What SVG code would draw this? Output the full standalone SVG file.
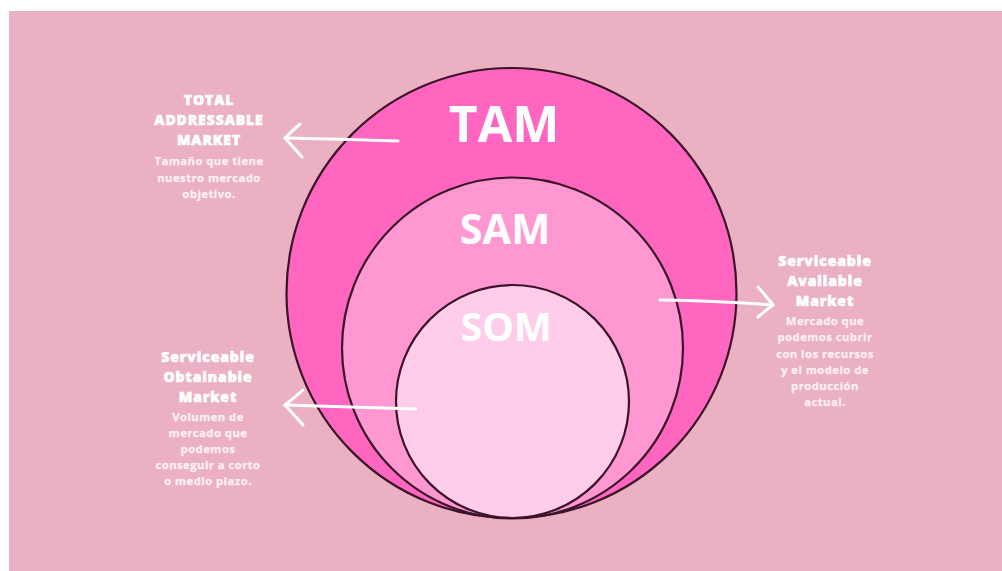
<svg xmlns="http://www.w3.org/2000/svg" width="1002" height="571" viewBox="0 0 1002 571">
<style>
.ring{stroke:#3a1428;stroke-width:2.2}
.big{font-family:"Open Sans","Liberation Sans",sans-serif;font-weight:700;fill:#ffffff;text-anchor:middle}
.hd{font-family:"Open Sans","Liberation Sans",sans-serif;font-weight:800;font-size:14px;fill:#ffffff;stroke:#ffffff;stroke-width:0.6;text-anchor:middle;letter-spacing:0.9px}
.bd{font-family:"Open Sans","Liberation Sans",sans-serif;font-weight:700;font-size:11.3px;fill:#fdf0f5;stroke:#fdf0f5;stroke-width:0.25;text-anchor:middle;letter-spacing:0.45px}
.arr{fill:none;stroke:#ffffff;stroke-width:3;stroke-linecap:round;stroke-linejoin:round}
</style>
<rect x="0" y="0" width="1002" height="571" fill="#ffffff"/>
<rect x="9" y="11" width="993" height="560" fill="#ebb0c2"/>
<g id="tam">
<circle class="ring" cx="511.5" cy="293" r="225" fill="#ff66c0"/>
<text class="big" x="504" y="142" font-size="50">TAM</text>
</g>
<g id="sam">
<circle class="ring" cx="512.5" cy="348" r="170.5" fill="#ff98d2"/>
<text class="big" x="505" y="244" font-size="41.5">SAM</text>
</g>
<g id="som">
<circle class="ring" cx="512.5" cy="401.5" r="116.5" fill="#ffcde9"/>
<text class="big" x="506" y="341" font-size="40">SOM</text>
</g>
<g id="connectors">
<path class="arr" d="M398 141 Q340 139 285 138"/>
<path class="arr" d="M300 124 Q292 131 285 138 Q293 147 302 157"/>
<path class="arr" d="M660 300 Q720 301 773 305"/>
<path class="arr" d="M758 287 Q766 296 773 305 Q765 311 758 317"/>
<path class="arr" d="M416 409 Q350 407 285 405"/>
<path class="arr" d="M303 390 Q294 398 285 405 Q294 415 303 425"/>
</g>
<g id="tam-label">
<text class="hd" x="209" y="105">TOTAL</text>
<text class="hd" x="209" y="125">ADDRESSABLE</text>
<text class="hd" x="209" y="145">MARKET</text>
<text class="bd" x="209" y="165">Tamaño que tiene</text>
<text class="bd" x="209" y="182">nuestro mercado</text>
<text class="bd" x="209" y="198">objetivo.</text>
</g>
<g id="sam-label">
<text class="hd" x="825" y="266">Serviceable</text>
<text class="hd" x="825" y="286">Available</text>
<text class="hd" x="825" y="306">Market</text>
<text class="bd" x="825" y="325">Mercado que</text>
<text class="bd" x="825" y="341">podemos cubrir</text>
<text class="bd" x="825" y="358">con los recursos</text>
<text class="bd" x="825" y="374">y el modelo de</text>
<text class="bd" x="825" y="390">producción</text>
<text class="bd" x="825" y="406">actual.</text>
</g>
<g id="som-label">
<text class="hd" x="208" y="362">Serviceable</text>
<text class="hd" x="208" y="382">Obtainable</text>
<text class="hd" x="208" y="402">Market</text>
<text class="bd" x="208" y="421">Volumen de</text>
<text class="bd" x="208" y="437">mercado que</text>
<text class="bd" x="208" y="453">podemos</text>
<text class="bd" x="208" y="469">conseguir a corto</text>
<text class="bd" x="208" y="485">o medio plazo.</text>
</g>
</svg>
